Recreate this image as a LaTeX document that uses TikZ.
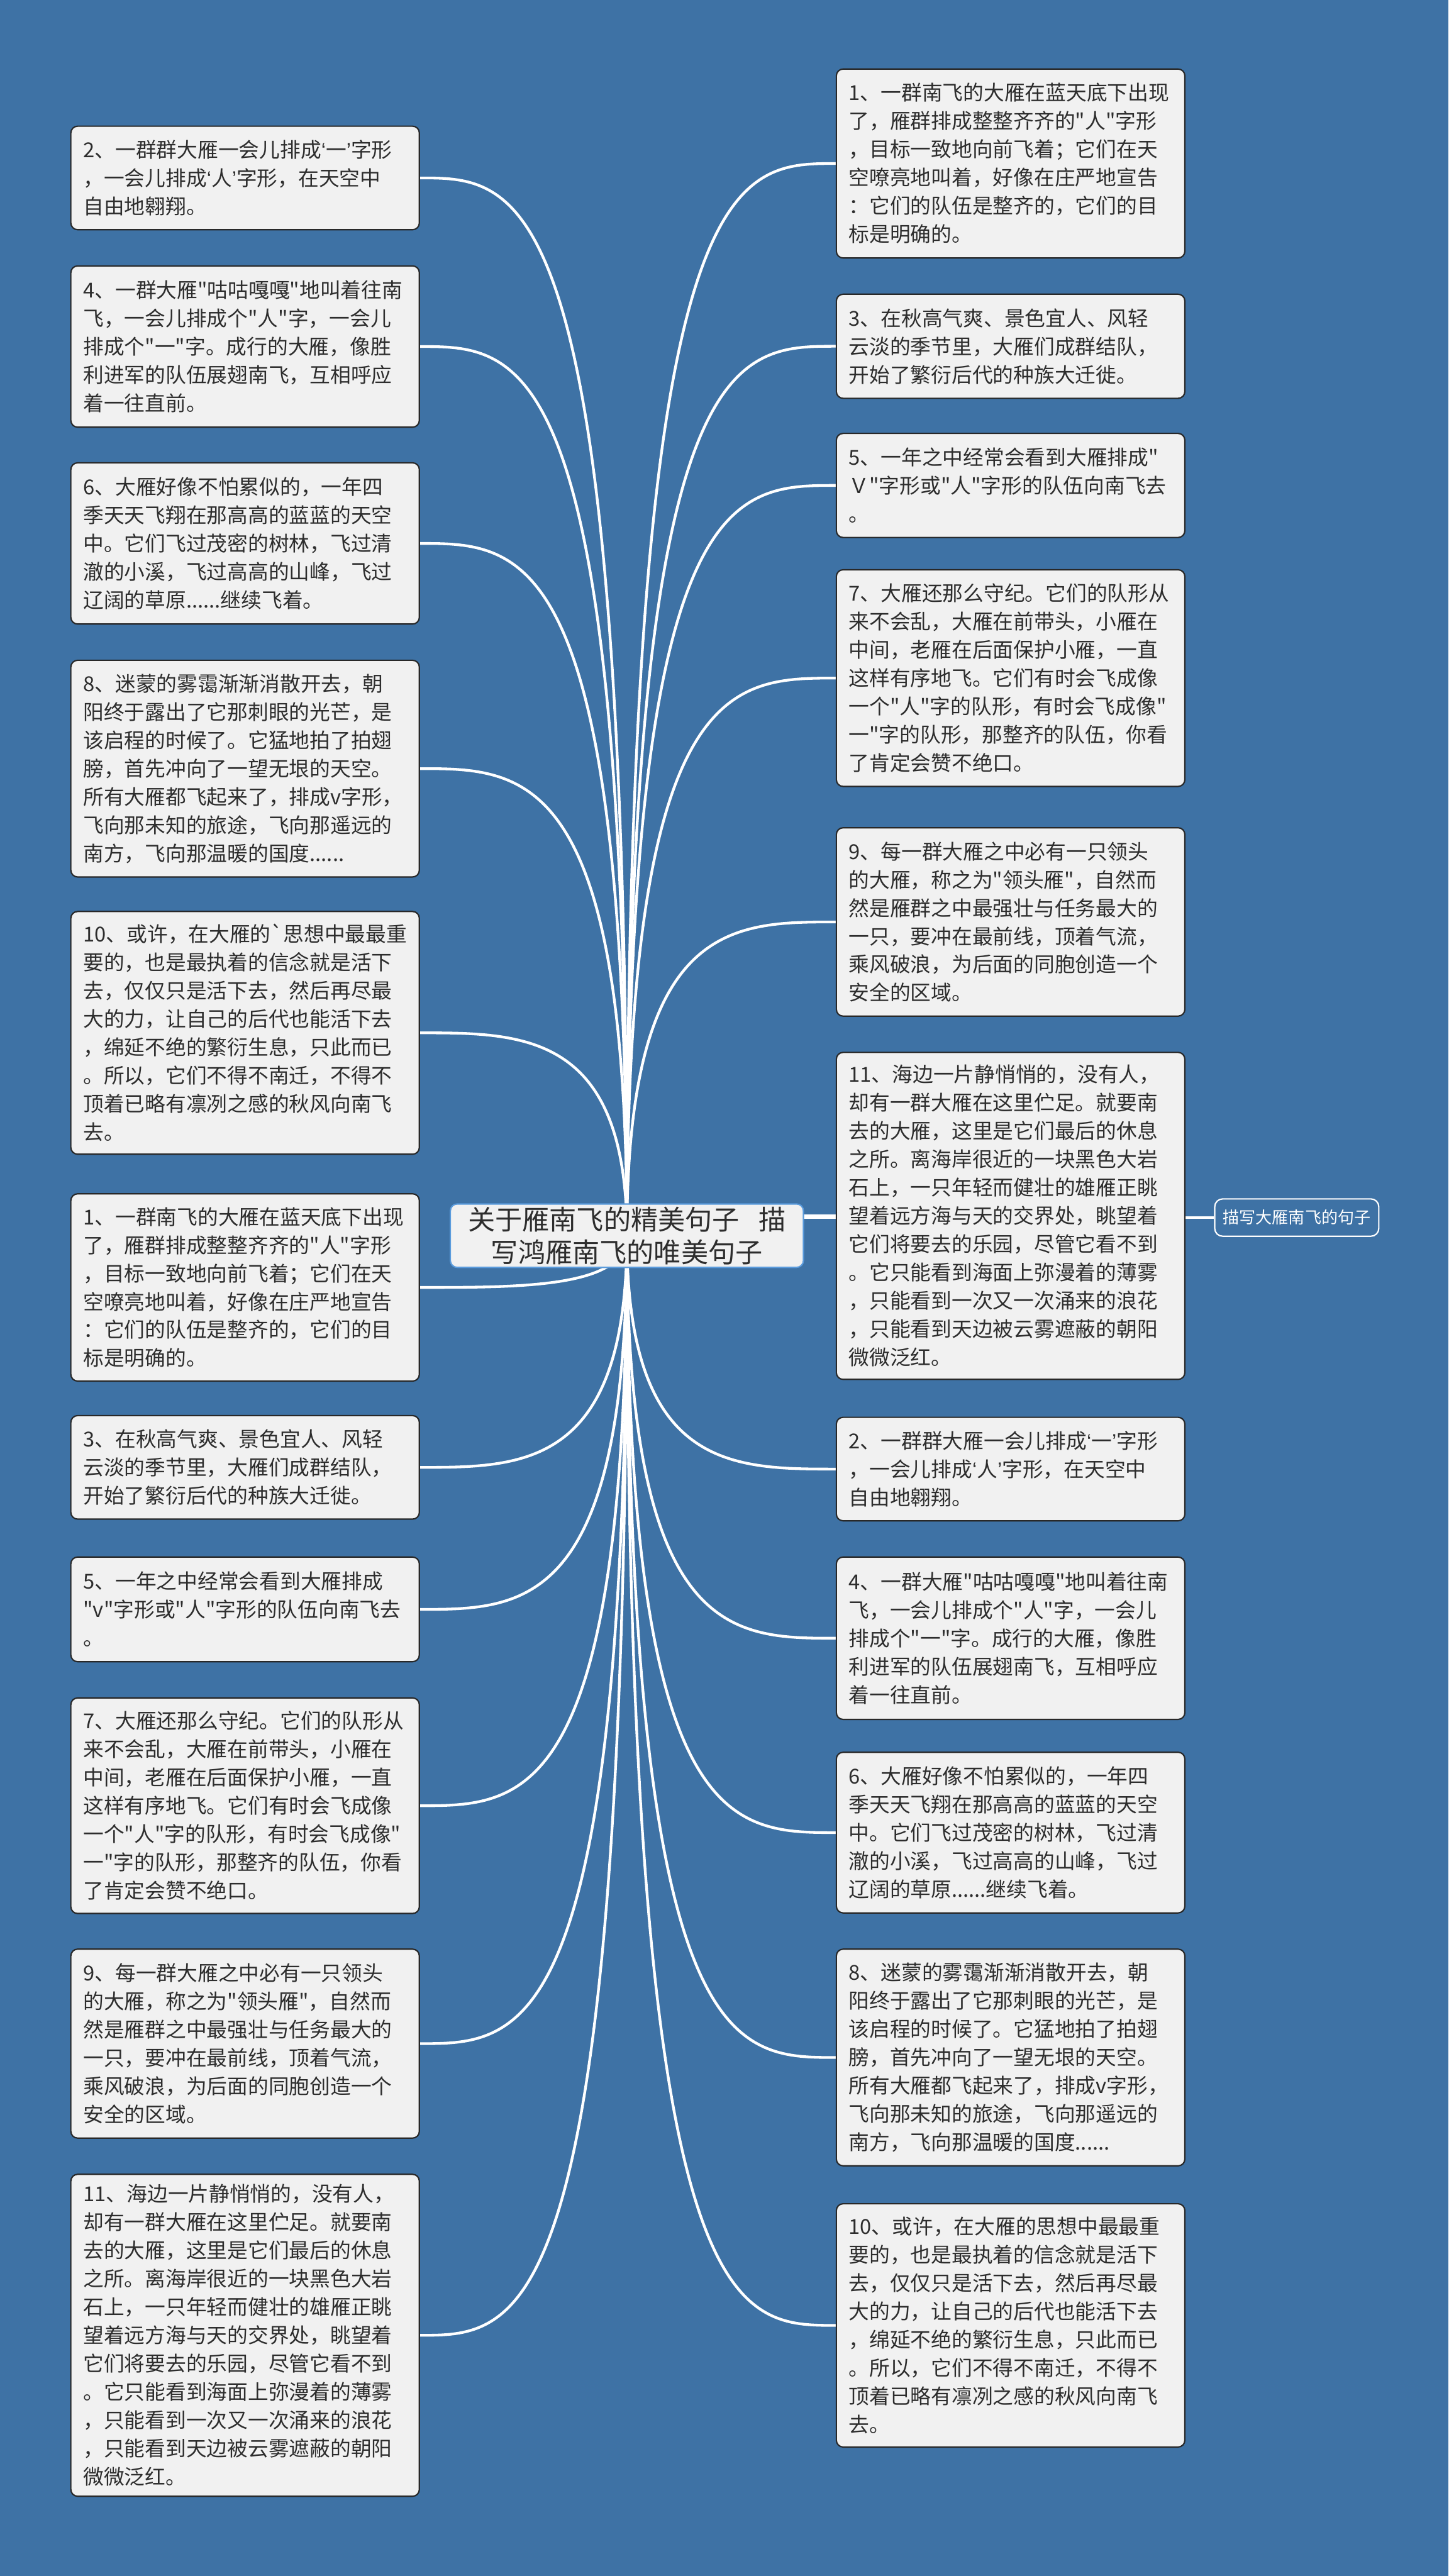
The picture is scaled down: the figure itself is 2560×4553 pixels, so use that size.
\documentclass[tikz,border=0pt]{standalone}
\usepackage{fontspec}
\newfontfamily\cjk{Noto Sans CJK SC}
\newfontfamily\qfont{Liberation Sans}
\usetikzlibrary{calc}
\definecolor{bgblue}{RGB}{62,114,165}
\definecolor{leaffill}{RGB}{241,241,241}
\definecolor{leafborder}{RGB}{40,40,40}
\definecolor{leaftext}{RGB}{45,45,45}
\definecolor{rootborder}{RGB}{90,155,220}
\pgfdeclarelayer{bg}
\pgfdeclarelayer{lines}
\pgfsetlayers{bg,lines,main}
\newcommand\yql{{\qfont ‘}}
\newcommand\yqr{{\qfont ’}}
\newcommand\yanA{2、一群群大雁一会儿排成\yql 一\yqr 字形\\，一会儿排成\yql 人\yqr 字形，在天空中\\自由地翱翔。}
\newcommand\yanB{4、一群大雁"咕咕嘎嘎"地叫着往南\\飞，一会儿排成个"人"字，一会儿\\排成个"一"字。成行的大雁，像胜\\利进军的队伍展翅南飞，互相呼应\\着一往直前。}
\newcommand\yanC{6、大雁好像不怕累似的，一年四\\季天天飞翔在那高高的蓝蓝的天空\\中。它们飞过茂密的树林，飞过清\\澈的小溪，飞过高高的山峰，飞过\\辽阔的草原......继续飞着。}
\newcommand\yanD{8、迷蒙的雾霭渐渐消散开去，朝\\阳终于露出了它那刺眼的光芒，是\\该启程的时候了。它猛地拍了拍翅\\膀，首先冲向了一望无垠的天空。\\所有大雁都飞起来了，排成v字形，\\飞向那未知的旅途，飞向那遥远的\\南方，飞向那温暖的国度......}
\newcommand\yanEtail{要的，也是最执着的信念就是活下\\去，仅仅只是活下去，然后再尽最\\大的力，让自己的后代也能活下去\\，绵延不绝的繁衍生息，只此而已\\。所以，它们不得不南迁，不得不\\顶着已略有凛冽之感的秋风向南飞\\去。}
\newcommand\yanF{1、一群南飞的大雁在蓝天底下出现\\了，雁群排成整整齐齐的"人"字形\\，目标一致地向前飞着；它们在天\\空嘹亮地叫着，好像在庄严地宣告\\：它们的队伍是整齐的，它们的目\\标是明确的。}
\newcommand\yanG{3、在秋高气爽、景色宜人、风轻\\云淡的季节里，大雁们成群结队，\\开始了繁衍后代的种族大迁徙。}
\newcommand\yanI{7、大雁还那么守纪。它们的队形从\\来不会乱，大雁在前带头，小雁在\\中间，老雁在后面保护小雁，一直\\这样有序地飞。它们有时会飞成像\\一个"人"字的队形，有时会飞成像"\\一"字的队形，那整齐的队伍，你看\\了肯定会赞不绝口。}
\newcommand\yanJ{9、每一群大雁之中必有一只领头\\的大雁，称之为"领头雁"，自然而\\然是雁群之中最强壮与任务最大的\\一只，要冲在最前线，顶着气流，\\乘风破浪，为后面的同胞创造一个\\安全的区域。}
\newcommand\yanK{11、海边一片静悄悄的，没有人，\\却有一群大雁在这里伫足。就要南\\去的大雁，这里是它们最后的休息\\之所。离海岸很近的一块黑色大岩\\石上，一只年轻而健壮的雄雁正眺\\望着远方海与天的交界处，眺望着\\它们将要去的乐园，尽管它看不到\\。它只能看到海面上弥漫着的薄雾\\，只能看到一次又一次涌来的浪花\\，只能看到天边被云雾遮蔽的朝阳\\微微泛红。}
\newcommand\leafnode[5]{%
  \pgfmathsetmacro\lfh{(#4-#3)*0.5}%
  \pgfmathsetmacro\lfy{(#3+#4)/2}%
  \node[leaf, minimum height=\lfh pt, anchor=west] (#1) at (#2,\lfy) {#5};}
\newcommand\linkto[1]{%
  \draw[conn] (root.center) .. controls (root.center |- #1) and ($(root.center |- #1)!0.5!(#1)$) .. (#1);}
\begin{document}
\begin{tikzpicture}[x=0.5pt,y=-0.5pt,
  leaf/.style={draw=leafborder, fill=leaffill, line width=1.2pt, rounded corners=6pt,
    text width=286pt, inner xsep=11pt, inner ysep=0pt, align=left, text=leaftext,
    font=\cjk\fontsize{18.2}{25}\selectfont},
  rootbox/.style={draw=rootborder, fill=leaffill, line width=1.2pt, rounded corners=6pt,
    minimum width=312pt, minimum height=56pt, align=center, text=leaftext, inner sep=0pt,
    font=\cjk\fontsize{24}{29}\selectfont},
  tagbox/.style={draw=white, fill=bgblue, line width=1.2pt, rounded corners=7pt,
    minimum width=145pt, minimum height=33pt, inner sep=0pt, text=white,
    font=\cjk\fontsize{14.5}{17}\selectfont},
  conn/.style={draw=white, line width=2.4pt}]
\useasboundingbox (0,0) rectangle (2560,4553);
\begin{pgfonlayer}{bg}
  \fill[bgblue] (0,0) rectangle (2560,4553);
\end{pgfonlayer}

\node[rootbox] (root) at (1108,2184) {关于雁南飞的精美句子\hspace{0.7em}描\\写鸿雁南飞的唯美句子};
\node[tagbox] (side) at (2292,2152) {描写大雁南飞的句子};

% left column
\leafnode{L1}{124}{223}{406}{\yanA}
\leafnode{L2}{124}{470}{755}{\yanB}
\leafnode{L3}{124}{818}{1103}{\yanC}
\leafnode{L4}{124}{1167}{1550}{\yanD}
\leafnode{L5}{124}{1611}{2040}{10、或许，在大雁的`思想中最最重\\\yanEtail}
\leafnode{L6}{124}{2110}{2441}{\yanF}
\leafnode{L7}{124}{2502}{2685}{\yanG}
\leafnode{L8}{124}{2752}{2937}{5、一年之中经常会看到大雁排成\\"v"字形或"人"字形的队伍向南飞去\\。}
\leafnode{L9}{124}{3001}{3382}{\yanI}
\leafnode{L10}{124}{3445}{3779}{\yanJ}
\leafnode{L11}{124}{3843}{4412}{\yanK}

% right column
\leafnode{R1}{1477}{122}{456}{\yanF}
\leafnode{R2}{1477}{520}{704}{\yanG}
\leafnode{R3}{1477}{766}{950}{5、一年之中经常会看到大雁排成"\\Ｖ"字形或"人"字形的队伍向南飞去\\。}
\leafnode{R4}{1477}{1007}{1390}{\yanI}
\leafnode{R5}{1477}{1463}{1796}{\yanJ}
\leafnode{R6}{1477}{1860}{2438}{\yanK}
\leafnode{R7}{1477}{2505}{2688}{\yanA}
\leafnode{R8}{1477}{2752}{3039}{\yanB}
\leafnode{R9}{1477}{3097}{3381}{\yanC}
\leafnode{R10}{1477}{3445}{3828}{\yanD}
\leafnode{R11}{1477}{3895}{4325}{10、或许，在大雁的思想中最最重\\\yanEtail}

\begin{pgfonlayer}{lines}
  \draw[conn] (side.west) -- (side.west -| root.center);
  \foreach \n in {L1,L2,L3,L4,L5,L6,L7,L8,L9,L10,L11} {\linkto{\n.east}}
  \foreach \n in {R1,R2,R3,R4,R5,R6,R7,R8,R9,R10,R11} {\linkto{\n.west}}
\end{pgfonlayer}
\end{tikzpicture}
\end{document}
